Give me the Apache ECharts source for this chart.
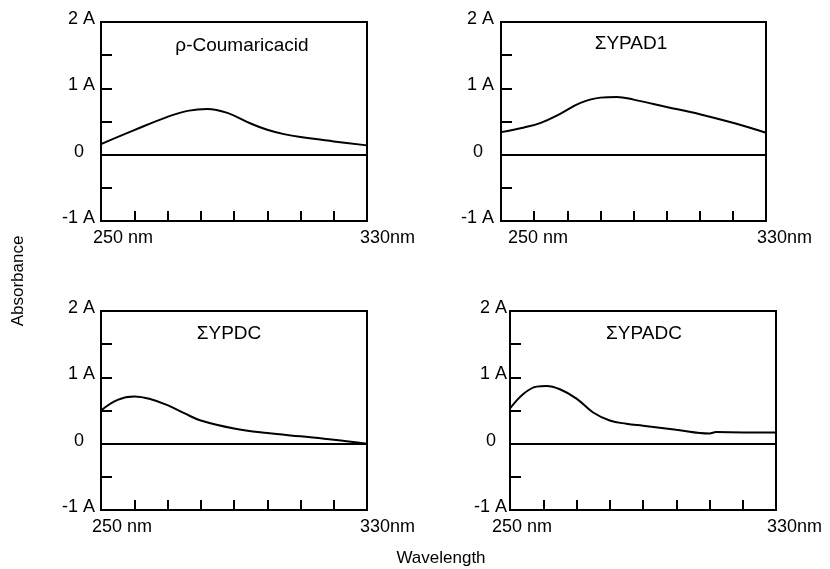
<!DOCTYPE html>
<html><head><meta charset="utf-8">
<script src="https://cdn.jsdelivr.net/npm/echarts@6/dist/echarts.min.js"></script>
<style>html,body{margin:0;padding:0;background:#fff}#c{width:830px;height:569px}</style>
</head><body><div id="c"></div>
<script>
// ---- data ----
const panelTitles = ['ρ-Coumaricacid', 'ΣYPAD1', 'ΣYPDC', 'ΣYPADC'];
const xAxisTitle = 'Wavelength';
const yAxisTitle = 'Absorbance';
const xTickLabels = { 250: '250 nm', 330: '330nm' };
const yTickLabels = { '-1': '-1 A', '0': '0', '1': '1 A', '2': '2 A' };

const coumaricX = [250,260,270,276,282,288,295,300,305,310,320,330];
const coumaricY = [0.16,0.37,0.57,0.66,0.69,0.63,0.47,0.375,0.31,0.265,0.20,0.14];

const ypad1X = [250,257,262,268,274,280,285,290,300,310,320,330];
const ypad1Y = [0.34,0.41,0.48,0.62,0.78,0.86,0.87,0.83,0.72,0.61,0.48,0.33];

const ypdcX = [250,255,260,265,270,275,280,290,300,310,320,330];
const ypdcY = [0.50,0.66,0.71,0.67,0.58,0.46,0.35,0.23,0.16,0.11,0.06,0.00];

const ypadcX = [250,254,258,261,265,270,275,280,285,290,300,310,312,320,330];
const ypadcY = [0.53,0.75,0.86,0.87,0.82,0.68,0.47,0.35,0.30,0.27,0.21,0.155,0.175,0.17,0.17];

const seriesX = [coumaricX, ypad1X, ypdcX, ypadcX];
const seriesY = [coumaricY, ypad1Y, ypdcY, ypadcY];

// ---- layout / style ----
const FONT = '"Liberation Sans", Arial, Helvetica, sans-serif';
const TICK_SIZE = 18;
const grids = [
  { left: 101, top: 22, width: 266, height: 199 },
  { left: 501, top: 22, width: 265, height: 199 },
  { left: 101, top: 311, width: 266, height: 199 },
  { left: 510, top: 311, width: 266, height: 199 }
];
const off250 = [-8, 7, -9, -18];
const off330 = [-7, -9, -7, -9];
const yMargin = [6, 7, 6, 3];
const titlePos = [[242, 46], [631, 44], [229, 334], [644, 334]];

const ctx = document.createElement('canvas').getContext('2d');
ctx.font = TICK_SIZE + 'px ' + FONT;
function tw(t) { return ctx.measureText(t).width; }

const chart = echarts.init(document.getElementById('c'), null, { renderer: 'canvas' });

const xAxes = [], yAxes = [], series = [], graphics = [];
grids.forEach((g, i) => {
  const pa = Math.max(0, tw(xTickLabels[250]) + 2 * off250[i]);
  const pb = Math.max(0, tw(xTickLabels[330]) + 2 * off330[i]);
  xAxes.push({
    type: 'value', gridIndex: i, min: 250, max: 330, interval: 10,
    axisLine: { show: true, onZero: false, lineStyle: { color: '#000', width: 2 } },
    axisTick: { show: true, inside: true, length: 10, lineStyle: { color: '#000', width: 2 } },
    splitLine: { show: false },
    axisLabel: {
      show: true, showMinLabel: true, showMaxLabel: true, margin: 8,
      color: '#000', fontFamily: FONT, fontSize: TICK_SIZE, align: 'center',
      formatter: v => v === 250 ? '{a|' + xTickLabels[250] + '}' : (v === 330 ? '{b|' + xTickLabels[330] + '}' : ''),
      rich: {
        a: { padding: [0, 0, 0, pa], fontFamily: FONT, fontSize: TICK_SIZE, color: '#000' },
        b: { padding: [0, 0, 0, pb], fontFamily: FONT, fontSize: TICK_SIZE, color: '#000' }
      }
    }
  });
  yAxes.push({
    type: 'value', gridIndex: i, min: -1, max: 2, interval: 0.5,
    axisLine: { show: true, lineStyle: { color: '#000', width: 2 } },
    axisTick: { show: true, inside: true, length: 11, lineStyle: { color: '#000', width: 2 } },
    splitLine: { show: false },
    axisLabel: {
      show: true, showMinLabel: true, showMaxLabel: true, margin: yMargin[i],
      color: '#000', fontFamily: FONT, fontSize: TICK_SIZE,
      formatter: v => {
        const t = yTickLabels[String(v)];
        if (t === undefined) return '';
        return v === 0 ? '{z|' + t + '}' : '{n|' + t + '}';
      },
      rich: {
        n: { padding: [0, 0, 6, 0], fontFamily: FONT, fontSize: TICK_SIZE, color: '#000' },
        z: { padding: [0, 11, 6, 0], fontFamily: FONT, fontSize: TICK_SIZE, color: '#000' }
      }
    }
  });
  series.push({
    type: 'line', xAxisIndex: i, yAxisIndex: i,
    data: seriesX[i].map((x, k) => [x, seriesY[i][k]]),
    showSymbol: false, smooth: 0.4,
    lineStyle: { color: '#000', width: 2 },
    markLine: {
      silent: true, symbol: ['none', 'none'], label: { show: false },
      lineStyle: { color: '#000', width: 2, type: 'solid' },
      data: [{ yAxis: 0 }]
    }
  });
  graphics.push({
    type: 'text', x: titlePos[i][0], y: titlePos[i][1],
    style: { text: panelTitles[i], fill: '#000', font: '19px ' + FONT, align: 'center', verticalAlign: 'middle' }
  });
});

graphics.push({
  type: 'text', x: 18, y: 281, rotation: Math.PI / 2,
  style: { text: yAxisTitle, fill: '#000', font: '17px ' + FONT, align: 'center', verticalAlign: 'middle' }
});
graphics.push({
  type: 'text', x: 441, y: 558,
  style: { text: xAxisTitle, fill: '#000', font: '17px ' + FONT, align: 'center', verticalAlign: 'middle' }
});

chart.setOption({
  animation: false,
  backgroundColor: '#fff',
  grid: grids.map(g => Object.assign({ show: true, borderColor: '#000', borderWidth: 2, backgroundColor: 'transparent' }, g)),
  xAxis: xAxes,
  yAxis: yAxes,
  series: series,
  graphic: graphics
});
</script>
</body></html>
